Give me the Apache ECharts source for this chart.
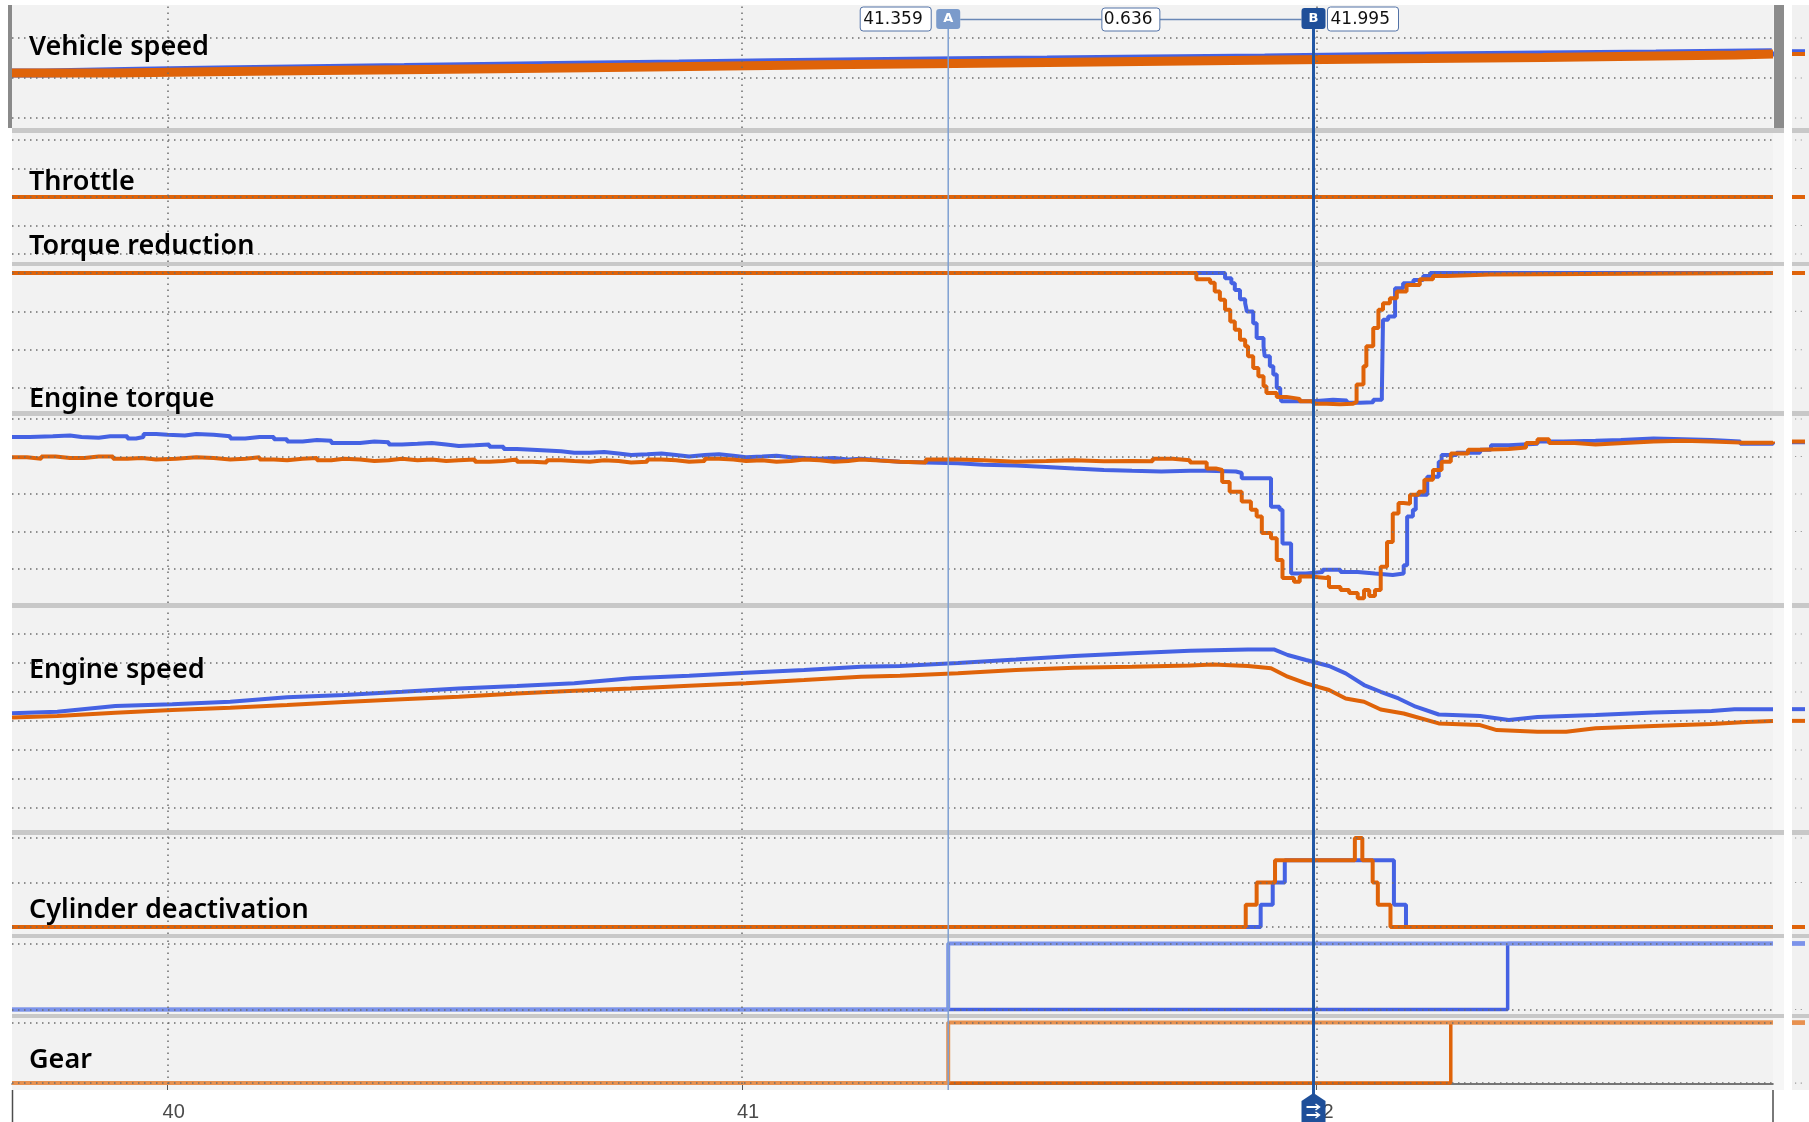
<!DOCTYPE html>
<html>
<head>
<meta charset="utf-8">
<script src="https://cdn.jsdelivr.net/npm/echarts@6/dist/echarts.min.js"></script>
<style>
  html, body { margin: 0; padding: 0; background: #fff; }
  #chart { width: 1809px; height: 1122px; }
</style>
</head>
<body>
<div id="chart"></div>
<script>
// time axis (seconds)
const timeMin = 39.729;
const timeMax = 42.795;
const timeTicks = [40, 41, 42];
const cursorA = 41.359;
const cursorB = 41.995;

const panelLabels = ['Vehicle speed', 'Throttle', 'Torque reduction', 'Engine torque', 'Engine speed', 'Cylinder deactivation', 'Gear'];

// grid line values for each strip
const speedTicks = [30, 40, 50];
const throttleTicks = [0, 10, 20, 30, 40];
const reductionTicks = [25, 50, 75, 100];
const torqueTicks = [0, 50, 100, 150, 200];
const rpmTicks = [1000, 1250, 1500, 1750, 2000, 2250, 2500];
const cylinderTicks = [0, 2, 4];
const flagTicks = [0, 1];
const gearTicks = [3, 4];

// vehicle speed, km/h
const vehicleSpeedBlue = [[39.729, 41.25], [39.785, 41.7], [39.949, 42.0], [40.088, 42.3], [40.248, 42.6], [40.412, 42.9], [40.549, 43.2], [40.711, 43.5], [40.890, 43.8], [41.050, 44.05], [41.211, 44.3], [41.371, 44.5], [41.531, 44.75], [41.710, 45.0], [41.910, 45.25], [42.050, 45.5], [42.210, 45.75], [42.393, 46.0], [42.591, 46.3], [42.793, 46.7], [42.795, 46.7]];
const vehicleSpeedOrange = [[39.729, 41.25], [39.909, 41.55], [40.072, 41.85], [40.267, 42.15], [40.452, 42.45], [40.652, 42.75], [40.840, 43.05], [41.010, 43.35], [41.191, 43.65], [41.371, 43.95], [41.573, 44.25], [41.773, 44.55], [41.971, 44.85], [42.190, 45.15], [42.394, 45.45], [42.560, 45.75], [42.730, 46.0], [42.795, 46.0]];

// throttle, %
const throttleBlue = [[39.729, 20], [42.795, 20]];
const throttleOrange = [[39.729, 20], [42.795, 20]];

// torque reduction, %
const reductionBlue = [[39.729, 100], [41.835, 100], [41.841, 96.5], [41.852, 93.3], [41.858, 89], [41.867, 82.9], [41.876, 80.3], [41.879, 74.9], [41.890, 67.3], [41.896, 57.6], [41.908, 52.2], [41.910, 45.7], [41.919, 39.2], [41.925, 33.8], [41.931, 25.1], [41.937, 19.7], [41.939, 16.4], [41.995, 17.5], [42.029, 17], [42.053, 15.4], [42.076, 15.8], [42.099, 17.5], [42.114, 21.4], [42.116, 69.5], [42.125, 71.6], [42.137, 90], [42.151, 93.3], [42.169, 95.5], [42.186, 98.1], [42.198, 100], [42.795, 100]];
const reductionOrange = [[39.729, 100], [41.768, 100], [41.791, 95.9], [41.815, 93.7], [41.823, 87.9], [41.832, 82.5], [41.841, 76], [41.850, 68.4], [41.858, 63], [41.867, 56.5], [41.876, 52.2], [41.881, 45.7], [41.890, 38.1], [41.899, 32.7], [41.908, 26.2], [41.913, 21.9], [41.931, 19.3], [41.948, 18], [41.971, 16.4], [41.995, 14.9], [42.018, 14.5], [42.041, 14.9], [42.064, 16], [42.070, 27.3], [42.082, 39.2], [42.087, 52.2], [42.099, 64.1], [42.108, 76], [42.116, 80.3], [42.128, 83.5], [42.140, 87.9], [42.157, 92.2], [42.180, 95.9], [42.203, 98.1], [42.227, 99], [42.302, 100], [42.795, 100]];

// engine torque, Nm
const torqueBlue = [[39.729, 176], [39.76, 177], [39.80, 178], [39.83, 176], [39.85, 175], [39.88, 177], [39.90, 177], [39.93, 174], [39.945, 176], [39.958, 180], [39.98, 179], [40.0, 178], [40.03, 180], [40.05, 179], [40.08, 177], [40.109, 174], [40.135, 176], [40.16, 176], [40.185, 173], [40.208, 170], [40.235, 172], [40.26, 171], [40.285, 168], [40.307, 168], [40.335, 170], [40.36, 169], [40.385, 166], [40.408, 167], [40.435, 168], [40.46, 166], [40.485, 164], [40.507, 165], [40.535, 166], [40.56, 163], [40.585, 160], [40.608, 159], [40.635, 158], [40.66, 157], [40.685, 155], [40.708, 155], [40.735, 156], [40.76, 154], [40.785, 152], [40.807, 153], [40.835, 154], [40.86, 152], [40.885, 150], [40.908, 152], [40.935, 153], [40.96, 151], [40.985, 149], [41.007, 150], [41.035, 151], [41.06, 149], [41.085, 148], [41.108, 147], [41.135, 148], [41.16, 146], [41.185, 147], [41.207, 145], [41.24, 143], [41.275, 142], [41.32, 141], [41.376, 139], [41.42, 138], [41.477, 136], [41.53, 134], [41.578, 132], [41.63, 131], [41.679, 130], [41.730, 131], [41.780, 131], [41.809, 130], [41.860, 128], [41.870, 121], [41.910, 121], [41.921, 83], [41.936, 79], [41.941, 34], [41.950, 34], [41.956, -6], [41.982, -4], [42.011, -1], [42.042, -4], [42.072, -6], [42.102, -8], [42.133, -6], [42.152, 5], [42.158, 70], [42.168, 79], [42.173, 99], [42.193, 123], [42.213, 143], [42.218, 152], [42.244, 155], [42.285, 159], [42.304, 165], [42.335, 167], [42.385, 170], [42.43, 171], [42.486, 172], [42.53, 174], [42.587, 173], [42.64, 172], [42.688, 170], [42.738, 167], [42.795, 169]];
const torqueOrange = [[39.729, 149], [39.755, 147], [39.78, 150], [39.805, 148], [39.83, 148], [39.855, 150], [39.88, 150], [39.905, 147], [39.93, 148], [39.955, 146], [39.98, 147], [40.015, 149], [40.05, 148], [40.08, 146], [40.109, 147], [40.135, 149], [40.16, 146], [40.185, 145], [40.208, 147], [40.235, 148], [40.26, 145], [40.285, 147], [40.307, 146], [40.335, 144], [40.36, 145], [40.385, 147], [40.408, 145], [40.435, 146], [40.46, 144], [40.485, 145], [40.507, 146], [40.535, 143], [40.56, 144], [40.585, 146], [40.608, 143], [40.635, 142], [40.66, 145], [40.685, 144], [40.708, 143], [40.735, 145], [40.76, 144], [40.785, 142], [40.807, 143], [40.835, 146], [40.86, 145], [40.885, 143], [40.908, 144], [40.935, 147], [40.96, 146], [40.985, 144], [41.007, 145], [41.035, 143], [41.06, 144], [41.085, 146], [41.108, 145], [41.135, 143], [41.16, 144], [41.185, 146], [41.207, 144.5], [41.24, 143], [41.275, 142], [41.32, 146], [41.376, 145], [41.42, 143], [41.477, 144], [41.53, 145], [41.578, 143.6], [41.63, 144], [41.679, 143.6], [41.715, 147], [41.750, 145], [41.780, 142], [41.809, 134], [41.825, 132], [41.836, 116], [41.849, 103], [41.870, 90], [41.886, 79], [41.896, 70], [41.905, 48], [41.921, 41], [41.931, 12], [41.941, -12], [41.961, -17], [41.971, -10], [41.991, -12], [42.017, -10], [42.022, -24], [42.042, -28], [42.057, -32], [42.072, -39], [42.083, -28], [42.092, -36], [42.102, -28], [42.112, 3], [42.123, 36], [42.133, 74], [42.143, 88], [42.152, 87], [42.163, 99], [42.178, 103], [42.188, 119], [42.203, 132], [42.218, 143], [42.234, 154], [42.264, 159], [42.285, 160], [42.335, 162], [42.365, 168], [42.385, 173], [42.405, 168], [42.45, 166], [42.486, 168], [42.536, 170], [42.587, 171], [42.637, 170], [42.688, 168.5], [42.738, 168.5], [42.795, 170]];

// engine speed, rpm
const rpmBlue = [[39.729, 1816], [39.808, 1829], [39.909, 1879], [40.008, 1894], [40.109, 1916], [40.208, 1954], [40.307, 1974], [40.408, 2002], [40.507, 2031], [40.608, 2052], [40.708, 2075], [40.807, 2118], [40.908, 2140], [41.007, 2166], [41.108, 2190], [41.207, 2218], [41.275, 2224], [41.376, 2251], [41.477, 2280], [41.578, 2310], [41.679, 2333], [41.780, 2356], [41.881, 2367], [41.926, 2367], [41.950, 2319], [41.982, 2276], [42.022, 2224], [42.051, 2161], [42.083, 2060], [42.112, 2002], [42.143, 1944], [42.173, 1873], [42.213, 1806], [42.285, 1793], [42.335, 1759], [42.385, 1785], [42.486, 1802], [42.587, 1823], [42.688, 1837], [42.728, 1852], [42.795, 1852]];
const rpmOrange = [[39.729, 1780], [39.808, 1793], [39.909, 1821], [40.008, 1845], [40.109, 1865], [40.208, 1888], [40.307, 1914], [40.408, 1937], [40.507, 1960], [40.608, 1988], [40.708, 2011], [40.807, 2031], [40.908, 2054], [41.007, 2075], [41.108, 2103], [41.207, 2132], [41.275, 2140], [41.376, 2161], [41.477, 2190], [41.578, 2209], [41.679, 2217], [41.780, 2229], [41.820, 2237], [41.881, 2224], [41.921, 2204], [41.950, 2132], [41.982, 2075], [42.022, 2017], [42.051, 1944], [42.083, 1916], [42.112, 1849], [42.152, 1815], [42.213, 1729], [42.285, 1715], [42.314, 1672], [42.385, 1658], [42.435, 1658], [42.486, 1687], [42.587, 1707], [42.688, 1724], [42.748, 1742], [42.795, 1751]];

// cylinders deactivated
const cylinderBlue = [[39.729, 0], [41.903, 1], [41.924, 2], [41.945, 3], [42.135, 1], [42.156, 0], [42.795, 0]];
const cylinderOrange = [[39.729, 0], [41.877, 1], [41.896, 2], [41.928, 3], [42.067, 4], [42.080, 3], [42.098, 2], [42.107, 1], [42.129, 0], [42.795, 0]];

// unlabelled flag strip
const flagDark = [[39.729, 0], [42.333, 1], [42.795, 1]];
const flagLight = [[39.729, 0], [41.359, 1], [42.795, 1]];

// gear
const gearDark = [[39.729, 3], [42.234, 4], [42.795, 4]];
const gearLight = [[39.729, 3], [41.359, 4], [42.795, 4]];

// ---- layout ----
const W = 1809;
const plotLeft = 12;
const plotRight = 1773;
const panelLayout = [
  { top: 5, bottom: 128, min: 27.5, max: 58.25, ticks: speedTicks },
  { top: 133, bottom: 262, min: -2.8, max: 42.46, ticks: throttleTicks },
  { top: 266, bottom: 411, min: 10.1, max: 104.56, ticks: reductionTicks },
  { top: 416, bottom: 603, min: -45.33, max: 204, ticks: torqueTicks },
  { top: 608, bottom: 830, min: 810.3, max: 2724.1, ticks: rpmTicks },
  { top: 835, bottom: 934, min: -0.315, max: 4.135, ticks: cylinderTicks },
  { top: 938, bottom: 1014, min: -0.068, max: 1.083, ticks: flagTicks },
  { top: 1018, bottom: 1090, min: 2.985, max: 4.076, ticks: gearTicks }
];
const labelCenters = [47, 182, 246, 399, 670, 910, 1060];

const ORANGE = '#df6309';
const BLUE = '#4562e3';
const LIGHT_BLUE = '#7b93ea';
const LIGHT_ORANGE = '#e8914f';

const last = panelLayout.length - 1;

const grids = panelLayout.map(p => ({
  left: plotLeft, right: W - plotRight, top: p.top, height: p.bottom - p.top, show: false
}));

const xAxes = panelLayout.map((p, i) => ({
  type: 'value', gridIndex: i, min: timeMin, max: timeMax,
  show: i === last,
  splitLine: { show: false },
  axisLine: { show: i === last, onZero: false, lineStyle: { color: '#4d4d4d', width: 1.5 } },
  axisTick: { show: i === last, customValues: timeTicks, length: 6, lineStyle: { color: '#555', width: 1 } },
  axisLabel: {
    show: i === last, customValues: timeTicks, margin: 18,
    fontSize: 20, fontFamily: '"Liberation Sans Narrow", "Liberation Sans", sans-serif',
    color: '#4a4a4a', padding: [0, 0, 0, 12]
  }
}));

const yAxes = panelLayout.map((p, i) => ({
  type: 'value', gridIndex: i, min: p.min, max: p.max, show: false
}));

const gridSeries = panelLayout.map((p, i) => ({
  type: 'line', xAxisIndex: i, yAxisIndex: i, data: [], z: 1, silent: true,
  markLine: {
    silent: true, symbol: 'none', animation: false,
    label: { show: false },
    lineStyle: { type: [1.5, 4.5], color: '#6e6e6e', width: 1.5 },
    data: [...p.ticks.map(v => ({ yAxis: v })), ...timeTicks.map(v => ({ xAxis: v }))]
  }
}));

function signal(panel, data, color, width, step) {
  return {
    type: 'line', xAxisIndex: panel, yAxisIndex: panel, data, step: step === false ? false : 'end',
    showSymbol: false, symbol: 'none', z: 3, silent: true,
    lineStyle: { color, width }
  };
}

const signals = [
  signal(0, vehicleSpeedBlue, BLUE, 9),
  signal(0, vehicleSpeedOrange, ORANGE, 9),
  signal(1, throttleBlue, BLUE, 4),
  signal(1, throttleOrange, ORANGE, 4),
  signal(2, reductionBlue, BLUE, 4),
  signal(2, reductionOrange, ORANGE, 4),
  signal(3, torqueBlue, BLUE, 4),
  signal(3, torqueOrange, ORANGE, 4),
  signal(4, rpmBlue, BLUE, 4, false),
  signal(4, rpmOrange, ORANGE, 4, false),
  signal(5, cylinderBlue, BLUE, 4),
  signal(5, cylinderOrange, ORANGE, 4),
  signal(6, flagDark, BLUE, 3.5),
  signal(6, flagLight, LIGHT_BLUE, 4),
  signal(7, gearDark, ORANGE, 3.5),
  signal(7, gearLight, LIGHT_ORANGE, 4)
];

const chart = echarts.init(document.getElementById('chart'));
chart.setOption({
  animation: false,
  backgroundColor: '#ffffff',
  grid: grids,
  xAxis: xAxes,
  yAxis: yAxes,
  series: [...gridSeries, ...signals]
});

// ---- frame, labels and cursors ----
const g = [];
g.push({ type: 'rect', z: -30, shape: { x: plotLeft, y: 5, width: 1784 - plotLeft, height: 1085 }, style: { fill: '#c8c8c8' } });
g.push({ type: 'rect', z: -30, shape: { x: 1792, y: 5, width: 17, height: 1085 }, style: { fill: '#c8c8c8' } });
panelLayout.forEach(p => {
  g.push({ type: 'rect', z: -29, shape: { x: plotLeft, y: p.top, width: plotRight - plotLeft, height: p.bottom - p.top }, style: { fill: '#f2f2f2' } });
  g.push({ type: 'rect', z: -29, shape: { x: plotRight, y: p.top, width: 1784 - plotRight, height: p.bottom - p.top }, style: { fill: '#f6f6f6' } });
  g.push({ type: 'rect', z: -29, shape: { x: 1792, y: p.top, width: 17, height: p.bottom - p.top }, style: { fill: '#f1f1f1' } });
});
// left handle and scrollbar of the top strip
g.push({ type: 'rect', z: 5, shape: { x: 8, y: 5, width: 4, height: 123 }, style: { fill: '#8a8a8a' } });
g.push({ type: 'rect', z: 5, shape: { x: 1774, y: 5, width: 10, height: 123 }, style: { fill: '#8c8c8c' } });
// axis box sides
g.push({ type: 'line', z: 5, shape: { x1: plotLeft + 0.5, y1: 1090, x2: plotLeft + 0.5, y2: 1122 }, style: { stroke: '#4d4d4d', lineWidth: 1.5 } });
g.push({ type: 'line', z: 5, shape: { x1: plotRight, y1: 1090, x2: plotRight, y2: 1122 }, style: { stroke: '#4d4d4d', lineWidth: 1.5 } });

// mini overview strip: grid dots and end values
panelLayout.forEach((p, i) => {
  p.ticks.forEach(v => {
    const y = chart.convertToPixel({ yAxisIndex: i }, v);
    g.push({ type: 'line', z: 2, shape: { x1: 1795, y1: y, x2: 1803, y2: y }, style: { stroke: '#9a9a9a', lineWidth: 1.2, lineDash: [1.2, 4.5] } });
  });
});
signals.forEach(s => {
  const lastPoint = s.data[s.data.length - 1];
  const y = chart.convertToPixel({ yAxisIndex: s.yAxisIndex }, lastPoint[1]);
  g.push({ type: 'rect', z: 6, shape: { x: 1792, y: y - 2, width: 13, height: 4 }, style: { fill: s.lineStyle.color } });
});

// strip titles
panelLabels.forEach((text, i) => {
  g.push({
    type: 'text', z: 20, x: 29, y: labelCenters[i],
    style: { text, fontSize: 27, fontWeight: 600, fontFamily: '"Noto Sans", sans-serif', fill: '#000', verticalAlign: 'middle' }
  });
});

// cursors
const xA = chart.convertToPixel({ xAxisIndex: 0 }, cursorA);
const xB = chart.convertToPixel({ xAxisIndex: 0 }, cursorB);
const valueFont = { fontSize: 17, fontFamily: '"DejaVu Sans", sans-serif', fill: '#111', verticalAlign: 'middle' };

g.push({ type: 'line', z: 40, shape: { x1: xA, y1: 29, x2: xA, y2: 1090 }, style: { stroke: '#7ea0d2', lineWidth: 1.5 } });
g.push({ type: 'line', z: 41, shape: { x1: xB, y1: 29, x2: xB, y2: 1100 }, style: { stroke: '#2157a5', lineWidth: 3 } });
g.push({ type: 'line', z: 40, shape: { x1: xA + 12, y1: 19.5, x2: xB - 12, y2: 19.5 }, style: { stroke: '#6a88b6', lineWidth: 1.3 } });

function valueBox(x, text) {
  g.push({ type: 'rect', z: 42, shape: { x, y: 7, width: 71, height: 24, r: 3 }, style: { fill: '#fff', stroke: '#5272a6', lineWidth: 1 } });
  g.push({ type: 'text', z: 43, x: x + 3, y: 19.5, style: Object.assign({ text }, valueFont) });
}
valueBox(xA - 88, cursorA.toFixed(3));
valueBox(xB + 14, cursorB.toFixed(3));
const mid = (xA + xB) / 2;
g.push({ type: 'rect', z: 42, shape: { x: mid - 29, y: 8, width: 58, height: 23, r: 3 }, style: { fill: '#fff', stroke: '#5272a6', lineWidth: 1 } });
g.push({ type: 'text', z: 43, x: mid - 27, y: 19.5, style: Object.assign({ text: (cursorB - cursorA).toFixed(3) }, valueFont) });

g.push({ type: 'rect', z: 42, shape: { x: xA - 12, y: 9, width: 24, height: 20, r: 3 }, style: { fill: '#7b9bcb' } });
g.push({ type: 'text', z: 43, x: xA, y: 19, style: { text: 'A', fontSize: 13, fontWeight: 'bold', fontFamily: '"DejaVu Sans", sans-serif', fill: '#fff', align: 'center', verticalAlign: 'middle' } });
g.push({ type: 'rect', z: 42, shape: { x: xB - 12, y: 8, width: 24, height: 21, r: 3 }, style: { fill: '#1f4f99' } });
g.push({ type: 'text', z: 43, x: xB, y: 18.5, style: { text: 'B', fontSize: 13, fontWeight: 'bold', fontFamily: '"DejaVu Sans", sans-serif', fill: '#fff', align: 'center', verticalAlign: 'middle' } });

// B handle on the time axis
g.push({ type: 'polygon', z: 44, shape: { points: [[xB - 12, 1122], [xB - 12, 1101], [xB, 1093], [xB + 12, 1101], [xB + 12, 1122]] }, style: { fill: '#1f4f99' } });
[1107, 1115].forEach(y => {
  g.push({ type: 'polyline', z: 45, shape: { points: [[xB - 7, y], [xB + 5, y]] }, style: { stroke: '#fff', lineWidth: 2 } });
  g.push({ type: 'polyline', z: 45, shape: { points: [[xB + 2, y - 3], [xB + 6, y], [xB + 2, y + 3]] }, style: { stroke: '#fff', lineWidth: 1.5, fill: null } });
});

chart.setOption({ graphic: { elements: g } });
</script>
</body>
</html>
